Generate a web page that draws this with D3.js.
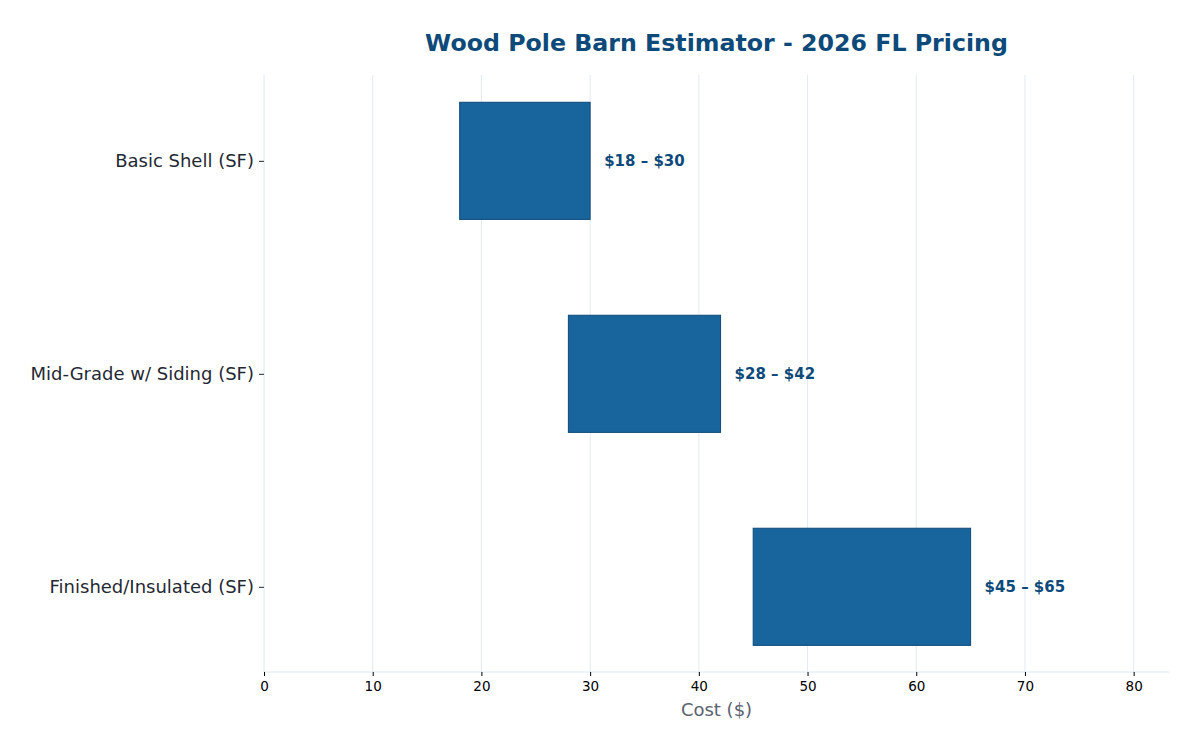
<!doctype html>
<html lang="en">
<head>
    <meta charset="UTF-8">
    <title>Wood Pole Barn Estimator</title>
    <script type="text/javascript" src="https://cdn.jsdelivr.net/npm/d3@7"></script>
    <style type="text/css">
        body { margin: 0; background: #fff; }
        svg { font-family: "DejaVu Sans", sans-serif; }
    </style>
</head>
<body>
<script type="text/javascript">

    var categories = ["Basic Shell (SF)", "Mid-Grade w/ Siding (SF)", "Finished/Insulated (SF)"];
    var lowValues = [18, 28, 45];
    var highValues = [30, 42, 65];
    var xTicks = [0, 10, 20, 30, 40, 50, 60, 70, 80];

    var w = 1200, h = 750;
    // plot area (note: "top" is reserved on window, so use prefixed names)
    var plotLeft = 264, plotRight = 1169, plotTop = 75, plotBottom = 672;

    var svg = d3.select("body").append("svg")
        .attr("width", w)
        .attr("height", h);

    var xScale = d3.scaleLinear().domain([0, 83.25]).range([plotLeft, plotRight]);
    var yScale = d3.scaleLinear().domain([-0.403, 2.4]).range([plotTop, plotBottom]);
    var barH = 0.55;

    // grid lines
    svg.append("g").selectAll("line")
        .data(xTicks)
        .enter().append("line")
        .attr("x1", function (d) { return xScale(d); })
        .attr("x2", function (d) { return xScale(d); })
        .attr("y1", plotTop).attr("y2", plotBottom)
        .attr("stroke", "#dde8f1").attr("stroke-width", 0.9);

    // bottom spine
    svg.append("line")
        .attr("x1", plotLeft).attr("x2", plotRight)
        .attr("y1", plotBottom).attr("y2", plotBottom)
        .attr("stroke", "#dde8f1").attr("stroke-width", 1);

    // bars
    svg.append("g").selectAll("rect")
        .data(categories)
        .enter().append("rect")
        .attr("x", function (d, i) { return xScale(lowValues[i]); })
        .attr("width", function (d, i) { return xScale(highValues[i]) - xScale(lowValues[i]); })
        .attr("y", function (d, i) { return yScale(i - barH / 2); })
        .attr("height", function (d, i) { return yScale(i + barH / 2) - yScale(i - barH / 2); })
        .attr("fill", "#18649c")
        .attr("stroke", "#0d4a7a")
        .attr("stroke-width", 1);

    // value labels
    svg.append("g").selectAll("text")
        .data(categories)
        .enter().append("text")
        .attr("x", function (d, i) { return xScale(highValues[i]) + 14; })
        .attr("y", function (d, i) { return yScale(i); })
        .attr("dy", "0.35em")
        .attr("font-size", "15px")
        .attr("font-weight", "bold")
        .attr("fill", "#0d4a7a")
        .text(function (d, i) { return "$" + lowValues[i] + " \u2013 $" + highValues[i]; });

    // x axis
    var xAxis = d3.axisBottom(xScale).tickValues(xTicks).tickSize(4).tickPadding(5);
    var gx = svg.append("g")
        .attr("transform", "translate(0," + plotBottom + ")")
        .call(xAxis);
    gx.select(".domain").remove();
    gx.selectAll("text").attr("font-size", "13.5px").attr("fill", "#000").attr("font-family", "DejaVu Sans");
    gx.selectAll("line").attr("stroke", "#000");

    // y axis
    var yAxis = d3.axisLeft(yScale).tickValues([0, 1, 2])
        .tickFormat(function (d) { return categories[d]; })
        .tickSize(5).tickPadding(5);
    var gy = svg.append("g")
        .attr("transform", "translate(" + plotLeft + ",0)")
        .call(yAxis);
    gy.select(".domain").remove();
    gy.selectAll("text").attr("font-size", "18px").attr("fill", "#1f2933").attr("font-family", "DejaVu Sans");
    gy.selectAll("line").attr("stroke", "#1f2933");

    // axis label
    svg.append("text")
        .attr("x", (plotLeft + plotRight) / 2)
        .attr("y", 716)
        .attr("text-anchor", "middle")
        .attr("font-size", "18px")
        .attr("fill", "#5a6270")
        .text("Cost ($)");

    // title
    svg.append("text")
        .attr("x", (plotLeft + plotRight) / 2)
        .attr("y", 51)
        .attr("text-anchor", "middle")
        .attr("font-size", "23.7px")
        .attr("font-weight", "bold")
        .attr("fill", "#0d4a7a")
        .text("Wood Pole Barn Estimator - 2026 FL Pricing");

</script>
</body>
</html>
